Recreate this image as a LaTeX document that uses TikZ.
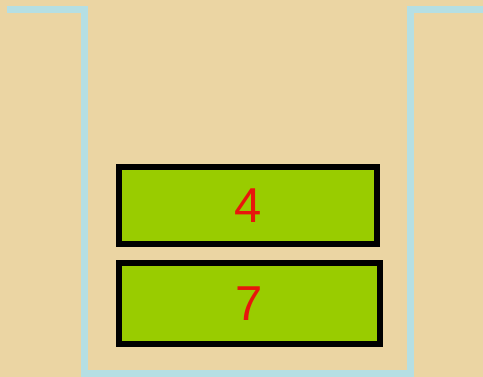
\documentclass[tikz,border=0pt]{standalone}
\usepackage{fontspec}
\setmainfont{Liberation Sans}
\definecolor{papyrus}{HTML}{EBD5A3}
\definecolor{wallblue}{HTML}{B5DFE3}
\definecolor{itemgreen}{HTML}{99CC00}
\definecolor{itemred}{HTML}{E8160C}
\tikzset{
  item/.style={draw=black, fill=itemgreen, line width=6pt, rectangle, inner sep=0pt,
    text=itemred, font=\fontsize{49}{49}\selectfont},
  wall/.style={draw=wallblue, line width=7pt}
}
\begin{document}
\begin{tikzpicture}[x=1pt, y=-1pt]
\fill[papyrus] (0,0) rectangle (483,377);
\useasboundingbox (0,0) rectangle (483,377);
% container
\draw[wall] (7,10) -- (84,10) -- (84,374) -- (410,374) -- (410,9.5) -- (483,9.5);
% stack items
\node[item, minimum width=258pt, minimum height=77pt] (top) at (248,205.5) {4};
\node[item, minimum width=261pt, minimum height=81pt] (bottom) at (249.5,303.5) {7};
\end{tikzpicture}
\end{document}
